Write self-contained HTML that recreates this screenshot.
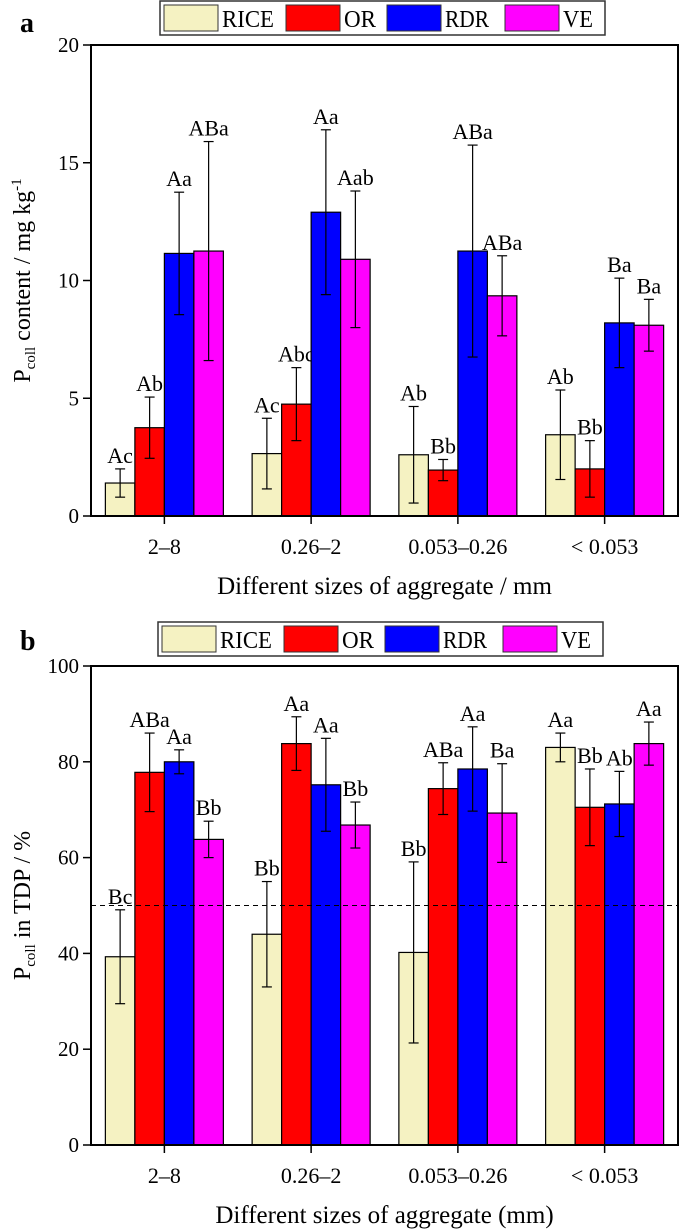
<!DOCTYPE html>
<html><head><meta charset="utf-8">
<style>
body{margin:0;background:#fff;}
svg{display:block;font-family:"Liberation Serif",serif;}
</style></head>
<body>
<svg id="chart" width="685" height="1229"></svg>
<script>
const categories = ["2–8","0.26–2","0.053–0.26","< 0.053"];
const seriesNames = ["RICE","OR","RDR","VE"];
const colors = ["#f5f2c2","#ff0000","#0000ff","#ff00ff"];
const aValues = [[1.4,2.65,2.6,3.45],[3.75,4.75,1.95,2.0],[11.15,12.9,11.25,8.2],[11.25,10.9,9.35,8.1]];
const aErrors = [[0.6,1.5,2.05,1.9],[1.3,1.55,0.45,1.2],[2.6,3.5,4.5,1.9],[4.65,2.9,1.7,1.1]];
const aLabels = [["Ac","Ac","Ab","Ab"],["Ab","Abc","Bb","Bb"],["Aa","Aa","ABa","Ba"],["ABa","Aab","ABa","Ba"]];
const aTicks = [0,5,10,15,20];
const bValues = [[39.3,44,40.2,83],[77.8,83.8,74.4,70.5],[80,75.2,78.5,71.2],[63.8,66.8,69.3,83.8]];
const bErrors = [[9.8,11,18.9,3],[8.2,5.6,5.4,8],[2.5,9.7,8.8,6.8],[3.8,4.8,10.3,4.5]];
const bLabels = [["Bc","Bb","Bb","Aa"],["ABa","Aa","ABa","Bb"],["Aa","Aa","Aa","Ab"],["Bb","Bb","Ba","Aa"]];
const bTicks = [0,20,40,60,80,100];
const refLine = 50;

const NS="http://www.w3.org/2000/svg";
const svg=document.getElementById('chart');
function mk(tag,attrs,parent,text){const e=document.createElementNS(NS,tag);for(const k in attrs)e.setAttribute(k,attrs[k]);if(text!==undefined)e.textContent=text;(parent||svg).appendChild(e);return e;}

function panel(cfg){
  const g=mk('g',{});
  
  
  const x0=91,x1=678,top=cfg.top,bot=cfg.bot;
  const y=v=>bot-(v-cfg.min)/(cfg.max-cfg.min)*(bot-top);
  const gw=(x1-x0)/categories.length, bw=29.5;
  const pl=mk('text',{x:20,y:cfg.letterY,'font-size':28,'font-weight':'bold'},g,cfg.letter);
  
  
  const lg=mk('g',{},g);
  
  
  mk('rect',{x:cfg.legX,y:cfg.legY,width:445,height:34,fill:'#fff',stroke:'#333','stroke-width':1.5},lg);
  const entW=[122,101,118,100];
  let lx=cfg.legX+4;
  seriesNames.forEach((s,i)=>{
    const en=mk('g',{},lg);
    
    
    mk('rect',{x:lx,y:cfg.legY+4,width:54,height:26,fill:colors[i],stroke:'#333','stroke-width':1},en);
    mk('text',{x:lx+58,y:cfg.legY+26,'font-size':24,textLength:[52,32,44,30][i],lengthAdjust:'spacingAndGlyphs'},en,s);
    lx+=entW[i];
  });
  categories.forEach((c,ci)=>{
    const cx=x0+gw*(ci+0.5);
    seriesNames.forEach((s,si)=>{
      const v=cfg.values[si][ci], e=cfg.errors[si][ci];
      const bx=cx-2*bw+si*bw;
      const r=mk('rect',{x:bx,y:y(v),width:bw,height:bot-y(v),fill:colors[si],stroke:'#000','stroke-width':1.2},g);
      
      
      const mx=bx+bw/2;
      const eb=mk('g',{stroke:'#000','stroke-width':1.2},g);
      
      
      mk('line',{x1:mx,x2:mx,y1:y(v+e),y2:y(Math.max(cfg.min,v-e))},eb);
      mk('line',{x1:mx-5,x2:mx+5,y1:y(v+e),y2:y(v+e)},eb);
      mk('line',{x1:mx-5,x2:mx+5,y1:y(v-e),y2:y(v-e)},eb);
      const t=mk('text',{x:mx,y:y(v+e)-6,'font-size':22,'text-anchor':'middle'},g,cfg.labels[si][ci]);
      
      
    });
    mk('line',{x1:cx,x2:cx,y1:bot,y2:bot+8,stroke:'#000','stroke-width':1.5},g);
    const tl=mk('text',{x:cx,y:bot+38,'font-size':22,'text-anchor':'middle'},g,c);
    
    
  });
  if(cfg.ref!==undefined){
    const dl=mk('line',{x1:x0,x2:x1,y1:y(cfg.ref),y2:y(cfg.ref),stroke:'#000','stroke-width':1,'stroke-dasharray':'5,4'},g);
    
    
  }
  mk('rect',{x:x0,y:top,width:x1-x0,height:bot-top,fill:'none',stroke:'#000','stroke-width':2},g);
  cfg.ticks.forEach(t=>{
    mk('line',{x1:x0-8,x2:x0,y1:y(t),y2:y(t),stroke:'#000','stroke-width':1.5},g);
    const tt=mk('text',{x:x0-12,y:y(t)+7,'font-size':21,'text-anchor':'end'},g,t);
    
    
  });
  const xt=mk('text',{x:(x0+x1)/2,y:bot+78,'font-size':25,'text-anchor':'middle'},g,cfg.xTitle);
  
  
  const yt=mk('text',{transform:`translate(30,${(top+bot)/2}) rotate(-90)`,'font-size':24,'text-anchor':'middle'},g);
  
  
  mk('tspan',{},yt,'P');
  mk('tspan',{'font-size':15,dy:5},yt,'coll');
  mk('tspan',{dy:-5},yt,cfg.yRest);
  if(cfg.sup){mk('tspan',{'font-size':15,dy:-9},yt,cfg.sup);}
}
panel({name:'chart-a',letter:'a',letterY:32,legX:160,legY:1,top:45,bot:516,min:0,max:20,values:aValues,errors:aErrors,labels:aLabels,ticks:aTicks,xTitle:'Different sizes of aggregate / mm',yRest:' content / mg kg',sup:'-1'});
panel({name:'chart-b',letter:'b',letterY:650,legX:158,legY:622,top:666,bot:1145,min:0,max:100,values:bValues,errors:bErrors,labels:bLabels,ticks:bTicks,ref:refLine,xTitle:'Different sizes of aggregate (mm)',yRest:' in TDP / %'});
</script>
</body></html>
